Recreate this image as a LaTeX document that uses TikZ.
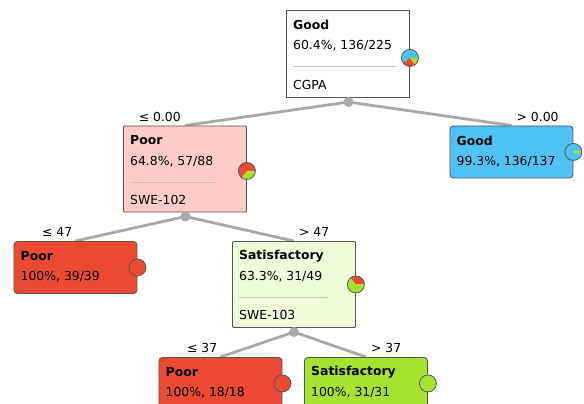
\documentclass[tikz,border=0pt]{standalone}
\usepackage{fontspec}
\setmainfont{DejaVu Sans}
\usetikzlibrary{calc}
\definecolor{edgegray}{HTML}{A9A9A9}
\definecolor{bordergray}{HTML}{555555}
\definecolor{rulegray}{HTML}{C4C4C4}
\definecolor{poorlight}{HTML}{FFCCC7}
\definecolor{satlight}{HTML}{F0FDDA}
\definecolor{goodblue}{HTML}{4FC3F7}
\definecolor{poorred}{HTML}{EC4A33}
\definecolor{satgreen}{HTML}{A6E22E}
\newcommand{\pieslice}[4]{\fill[#4] (#1) -- ++(#2:8.5pt) arc[start angle=#2, end angle=#3, radius=8.5pt] -- cycle;}
\newcommand{\pierim}[1]{\draw[bordergray, line width=0.8pt] (#1) circle[radius=8.5pt];}
\begin{document}
\begin{tikzpicture}[x=1pt,y=-1pt,
  every node/.style={font=\fontsize{12.4}{14}\selectfont, text=black},
  inner/.style={draw=bordergray, line width=0.9pt, anchor=north west, inner sep=0, minimum width=123pt, minimum height=86pt, rounded corners=1pt},
  leaf/.style={draw=bordergray, line width=0.9pt, anchor=north west, inner sep=0, minimum width=123pt, minimum height=52pt, rounded corners=3.5pt},
  txt/.style={anchor=west, inner sep=0},
  edge/.style={draw=edgegray, line width=2.8pt},
  dotnode/.style={circle, fill=edgegray, inner sep=0, minimum size=10pt},
  lblL/.style={anchor=south east, inner sep=0},
  lblR/.style={anchor=south west, inner sep=0},
  rulel/.style={draw=rulegray, line width=0.9pt}
]
\clip (0,0) rectangle (584,404);
\fill[white] (0,0) rectangle (584,404);

\coordinate (rootdot) at (348.5,102);
\coordinate (poordot) at (185.5,216.5);
\coordinate (satdot) at (294,332);

% box outlines (invisible) used as edge targets
\node[inner, draw=none, minimum height=87pt] (root) at (286,10) {};
\node[inner, draw=none] (poorint) at (123,125.5) {};
\node[leaf, draw=none] (goodleaf) at (449.5,125.5) {};
\node[leaf, draw=none] (poorleafA) at (13.5,241) {};
\node[inner, draw=none] (satint) at (232,241) {};
\node[leaf, draw=none] (poorleafB) at (158.5,357) {};
\node[leaf, draw=none] (satleaf) at (304,357) {};

\draw[edge] (rootdot) -- (poorint.north);
\draw[edge] (rootdot) -- (goodleaf.north);
\draw[edge] (poordot) -- (poorleafA.north);
\draw[edge] (poordot) -- (satint.north);
\draw[edge] (satdot) -- (poorleafB.north);
\draw[edge] (satdot) -- (satleaf.north);

% edge labels
\node[lblL] (l1) at ($(poorint.north)+(-4,-4)$) {≤ 0.00};
\node[lblR] (l2) at ($(goodleaf.north)+(5,-4)$) {> 0.00};
\node[lblL] (l3) at ($(poorleafA.north)+(-3,-4)$) {≤ 47};
\node[lblR] (l4) at ($(satint.north)+(5,-4)$) {> 47};
\node[lblL] (l5) at ($(poorleafB.north)+(-3,-4)$) {≤ 37};
\node[lblR] (l6) at ($(satleaf.north)+(5,-4)$) {> 37};

% boxes drawn
\node[inner, fill=white, minimum height=87pt, rounded corners=0pt] (rootb) at (286,10) {};
\node[inner, fill=poorlight] (poorintb) at (123,125.5) {};
\node[leaf, fill=goodblue] (goodleafb) at (449.5,125.5) {};
\node[leaf, fill=poorred] (poorleafAb) at (13.5,241) {};
\node[inner, fill=satlight] (satintb) at (232,241) {};
\node[leaf, fill=poorred] (poorleafBb) at (158.5,357) {};
\node[leaf, fill=satgreen] (satleafb) at (304,357) {};

% dots
\node[dotnode] (rd) at (rootdot) {};
\node[dotnode] (pd) at (poordot) {};
\node[dotnode] (sd) at (satdot) {};

% texts: root
\node[txt] (t1) at ($(rootb.north west)+(7,15)$) {\textbf{Good}};
\node[txt] (t2) at ($(rootb.north west)+(7,36)$) {60.4\%, 136/225};
\draw[rulel] ($(rootb.north west)+(7,56.5)$) -- ++(103,0);
\node[txt] (t3) at ($(rootb.north west)+(7,75)$) {CGPA};
% poor internal
\node[txt] (t4) at ($(poorintb.north west)+(7,15)$) {\textbf{Poor}};
\node[txt] (t5) at ($(poorintb.north west)+(7,36)$) {64.8\%, 57/88};
\draw[rulel] ($(poorintb.north west)+(7,56.5)$) -- ++(87,0);
\node[txt] (t6) at ($(poorintb.north west)+(7,74)$) {SWE-102};
% good leaf
\node[txt] (t7) at ($(goodleafb.north west)+(7,15)$) {\textbf{Good}};
\node[txt] (t8) at ($(goodleafb.north west)+(7,36)$) {99.3\%, 136/137};
% poor leaf A
\node[txt] (t9) at ($(poorleafAb.north west)+(7,15)$) {\textbf{Poor}};
\node[txt] (t10) at ($(poorleafAb.north west)+(7,36)$) {100\%, 39/39};
% sat internal
\node[txt] (t11) at ($(satintb.north west)+(7,15)$) {\textbf{Satisfactory}};
\node[txt] (t12) at ($(satintb.north west)+(7,36)$) {63.3\%, 31/49};
\draw[rulel] ($(satintb.north west)+(7,56.5)$) -- ++(89,0);
\node[txt] (t13) at ($(satintb.north west)+(7,74)$) {SWE-103};
% poor leaf B
\node[txt] (t14) at ($(poorleafBb.north west)+(7,15)$) {\textbf{Poor}};
\node[txt] (t15) at ($(poorleafBb.north west)+(7,36)$) {100\%, 18/18};
% sat leaf
\node[txt] (t16) at ($(satleafb.north west)+(7,15)$) {\textbf{Satisfactory}};
\node[txt] (t17) at ($(satleafb.north west)+(7,36)$) {100\%, 31/31};

% pies
\coordinate (p1) at ($(rootb.east)+(0,4)$);
\pieslice{p1}{0}{217}{goodblue}
\pieslice{p1}{217}{308}{poorred}
\pieslice{p1}{308}{360}{satgreen}
\pierim{p1}
\coordinate (p2) at ($(poorintb.east)+(0,2)$);
\pieslice{p2}{0}{233}{poorred}
\pieslice{p2}{233}{360}{satgreen}
\pierim{p2}
\coordinate (p3) at (goodleafb.east);
\pieslice{p3}{0}{357}{goodblue}
\pieslice{p3}{357}{360}{satgreen}
\draw[satgreen, line width=1.2pt] (p3) -- ++(0:8pt);
\pierim{p3}
\coordinate (p4) at (poorleafAb.east);
\pieslice{p4}{0}{360}{poorred}
\pierim{p4}
\coordinate (p5) at (satintb.east);
\pieslice{p5}{0}{132}{poorred}
\pieslice{p5}{132}{360}{satgreen}
\pierim{p5}
\coordinate (p6) at (poorleafBb.east);
\pieslice{p6}{0}{360}{poorred}
\pierim{p6}
\coordinate (p7) at (satleafb.east);
\pieslice{p7}{0}{360}{satgreen}
\pierim{p7}
\end{tikzpicture}
\end{document}
